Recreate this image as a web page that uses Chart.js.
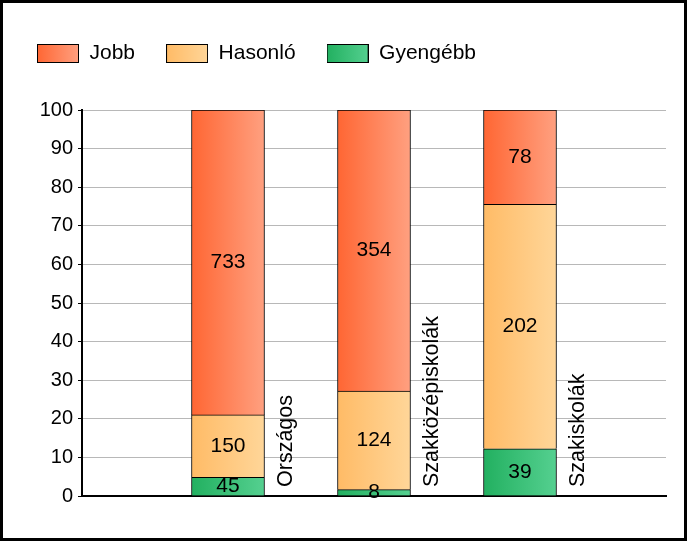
<!DOCTYPE html>
<html><head><meta charset="utf-8">
<script src="https://cdn.jsdelivr.net/npm/chart.js@4"></script>
<style>
html,body{margin:0;padding:0;background:#fff;}
#wrap{width:687px;height:541px;box-sizing:border-box;border:3px solid #000;background:#fff;}
canvas{display:block;}
</style></head><body>
<div id="wrap"><canvas id="c" width="681" height="535"></canvas></div>
<script>
// ---- data ----
const categories = ['', 'Országos', 'Szakközépiskolák', 'Szakiskolák', ''];
const seriesNames = ['Jobb', 'Hasonló', 'Gyengébb'];
const jobb     = [null, 733, 354, 78, null];
const hasonlo  = [null, 150, 124, 202, null];
const gyengebb = [null, 45, 8, 39, null];
const yTicks = [0, 10, 20, 30, 40, 50, 60, 70, 80, 90, 100];

// ---- styles ----
const FONT = "'Liberation Sans', Arial, sans-serif";
const BAR = 73;
const colJobb = ['#ff6633', '#ffa080'];
const colHas  = ['#ffbb66', '#ffd699'];
const colGy   = ['#22b060', '#55d090'];

const totals = categories.map((c, i) => (jobb[i] || 0) + (hasonlo[i] || 0) + (gyengebb[i] || 0));
const pct = arr => arr.map((v, i) => v == null ? null : v / totals[i] * 100);

function grad(cols) {
  return (ctx) => {
    const ch = ctx.chart, xs = ch.scales && ch.scales.x;
    if (!xs || !ch.chartArea || ctx.type !== 'data') return cols[0];
    const cx = xs.getPixelForValue(ctx.dataIndex);
    if (!isFinite(cx)) return cols[0];
    const g = ch.ctx.createLinearGradient(cx - BAR / 2, 0, cx + BAR / 2, 0);
    g.addColorStop(0, cols[0]); g.addColorStop(1, cols[1]);
    return g;
  };
}
function legendImg(cols) {
  const cv = document.createElement('canvas');
  cv.width = 42; cv.height = 19;
  const c = cv.getContext('2d');
  const g = c.createLinearGradient(0, 0, 42, 0);
  g.addColorStop(0, cols[0]); g.addColorStop(1, cols[1]);
  c.fillStyle = g; c.fillRect(0, 0, 42, 19);
  c.strokeStyle = '#000'; c.lineWidth = 1; c.strokeRect(0.5, 0.5, 41, 18);
  return cv;
}

const datasets = [
  { label: seriesNames[2], counts: gyengebb, data: pct(gyengebb), cols: colGy },
  { label: seriesNames[1], counts: hasonlo, data: pct(hasonlo), cols: colHas },
  { label: seriesNames[0], counts: jobb, data: pct(jobb), cols: colJobb },
].map(d => Object.assign(d, {
  backgroundColor: grad(d.cols), borderColor: '#000', borderWidth: 1,
  barThickness: BAR, img: legendImg(d.cols)
}));

const labelsPlugin = {
  id: 'labelsPlugin',
  afterDatasetsDraw(chart) {
    const { ctx, scales: { x, y } } = chart;
    ctx.save();
    ctx.fillStyle = '#000';
    // value labels
    ctx.font = '21px ' + FONT;
    ctx.textAlign = 'center'; ctx.textBaseline = 'middle';
    chart.data.datasets.forEach((ds, di) => {
      const meta = chart.getDatasetMeta(di);
      meta.data.forEach((el, i) => {
        if (ds.counts[i] == null) return;
        ctx.fillText(String(ds.counts[i]), el.x, (el.y + el.base) / 2);
      });
    });
    // rotated category labels
    ctx.font = '21.5px ' + FONT;
    ctx.textAlign = 'left'; ctx.textBaseline = 'alphabetic';
    categories.forEach((c, i) => {
      if (!c) return;
      const px = x.getPixelForValue(i) + 64;
      const py = y.getPixelForValue(0) - 9;
      ctx.save(); ctx.translate(px, py); ctx.rotate(-Math.PI / 2);
      ctx.fillText(c, 0, 0); ctx.restore();
    });
    ctx.restore();
  }
};

Chart.defaults.font.family = FONT;
new Chart(document.getElementById('c'), {
  type: 'bar',
  data: { labels: categories, datasets },
  plugins: [labelsPlugin],
  options: {
    responsive: false, animation: false, devicePixelRatio: 1,
    layout: { padding: { left: 3, right: 18, top: 9, bottom: 42 } },
    plugins: {
      tooltip: { enabled: false },
      title: { display: true, text: '', weight: 500, font: { size: 10, lineHeight: 1 }, padding: { top: 0, bottom: 26 } },
      legend: {
        position: 'top', align: 'start', reverse: true,
        labels: {
          usePointStyle: true, pointStyleWidth: 42, boxHeight: 19, padding: 31,
          color: '#000', font: { size: 21, family: FONT },
          generateLabels(chart) {
            return chart.data.datasets.map((ds, i) => ({
              text: ds.label, pointStyle: ds.img, datasetIndex: i, hidden: false,
              fillStyle: ds.cols[0], strokeStyle: '#000', lineWidth: 1, fontColor: '#000'
            }));
          }
        }
      }
    },
    scales: {
      x: {
        type: 'category', stacked: true, offset: false,
        ticks: { display: false }, grid: { display: false },
        border: { display: true, color: '#000', width: 2 },
        afterFit(s) { s.height = 0; }
      },
      y: {
        stacked: true, min: 0, max: 100,
        afterBuildTicks(s) { s.ticks = yTicks.map(v => ({ value: v })); },
        ticks: { color: '#000', font: { size: 20, family: FONT }, padding: 5 },
        grid: { color: '#b8b8b8', tickColor: '#000', tickLength: 4, lineWidth: 1 },
        border: { color: '#000', width: 2 },
        afterFit(s) { s.width = 76; }
      }
    }
  }
});
</script>
</body></html>
